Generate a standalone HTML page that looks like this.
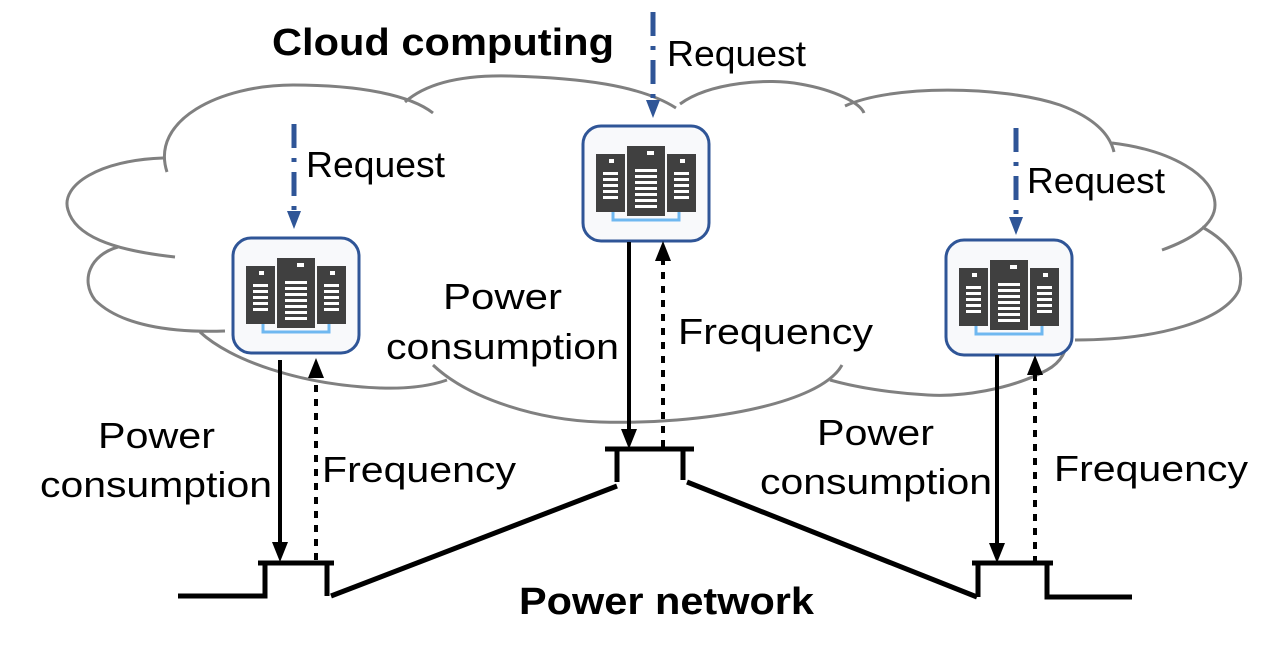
<!DOCTYPE html>
<html><head><style>body{margin:0;background:#fff}svg{display:block}text{font-family:"Liberation Sans",Arial,sans-serif;fill:#000}</style></head><body>
<svg width="1275" height="650" viewBox="0 0 1275 650" xmlns="http://www.w3.org/2000/svg">
<defs>
<g id="srv">
<rect x="0" y="0" width="126" height="115" rx="18" fill="#f8f9fb" stroke="#2f5597" stroke-width="3"/>
<rect x="13" y="28" width="29" height="58" fill="#404040"/><rect x="44" y="20" width="38" height="70" fill="#404040"/><rect x="84" y="28" width="29" height="58" fill="#404040"/>
<g fill="#fff"><rect x="26" y="33" width="5" height="4"/><rect x="64" y="25" width="7" height="4"/><rect x="97" y="33" width="5" height="4"/>
<rect x="20" y="46" width="15" height="3"/><rect x="20" y="52" width="15" height="3"/><rect x="20" y="58" width="15" height="3"/><rect x="20" y="64" width="15" height="3"/><rect x="20" y="70" width="15" height="3"/>
<rect x="91" y="46" width="15" height="3"/><rect x="91" y="52" width="15" height="3"/><rect x="91" y="58" width="15" height="3"/><rect x="91" y="64" width="15" height="3"/><rect x="91" y="70" width="15" height="3"/>
<rect x="52" y="43" width="22" height="3"/><rect x="52" y="49" width="22" height="3"/><rect x="52" y="55" width="22" height="3"/><rect x="52" y="61" width="22" height="3"/><rect x="52" y="67" width="22" height="3"/><rect x="52" y="73" width="22" height="3"/><rect x="52" y="79" width="22" height="3"/></g>
<path d="M30,86 V94 H96 V86" fill="none" stroke="#6fb8f0" stroke-width="3"/>
</g>
</defs>
<g fill="none" stroke="#808080" stroke-width="3">
<path d="M167,172 C150,120 220,85 293,85 C360,85 410,95 433,113"/>
<path d="M405,102 C430,80 470,75 510,76 C580,78 640,85 676,108"/>
<path d="M680,104 C710,82 770,78 800,84 C835,90 860,103 864,113"/>
<path d="M845,106 C890,85 1000,85 1060,105 C1095,118 1110,135 1114,152"/>
<path d="M1112,143 C1170,150 1215,175 1215,205 C1215,225 1190,240 1162,250"/>
<path d="M1202,227 C1235,245 1245,270 1239,290 C1225,320 1160,340 1075,340"/>
<path d="M1039,293 C1075,320 1075,355 1047,370 C1010,390 960,397 928,395 C890,393 855,387 830,380"/>
<path d="M433,365 C470,400 540,420 600,422 C700,425 820,405 842,365"/>
<path d="M200,332 C230,360 300,385 380,388 C410,389 430,386 447,380"/>
<path d="M118,247 C90,255 80,280 95,300 C120,325 170,333 225,331"/>
<path d="M163,158 C100,160 60,185 68,210 C75,235 110,250 175,257"/>
</g>
<use href="#srv" x="233" y="238"/><use href="#srv" x="583" y="126"/><use href="#srv" x="946" y="240"/>
<g stroke="#2f5597" stroke-width="5" stroke-dasharray="24,10,4,10" fill="none">
<line x1="294" y1="124" x2="294" y2="214"/>
<line x1="653" y1="12" x2="653" y2="104"/>
<line x1="1016" y1="128" x2="1016" y2="221"/>
</g>
<path d="M287,211 h14 l-7,18z M646,100 h14 l-7,18z M1009,217 h14 l-7,18z" fill="#2f5597"/>
<g stroke="#000" stroke-width="4" fill="none">
<line x1="280" y1="360" x2="280" y2="545"/>
<line x1="629" y1="242" x2="629" y2="432"/>
<line x1="997" y1="355" x2="997" y2="548"/>
<g stroke-dasharray="7,7">
<line x1="316" y1="560" x2="316" y2="376"/><line x1="663" y1="447" x2="663" y2="259"/><line x1="1035" y1="563" x2="1035" y2="373"/></g>
</g>
<path d="M316,358 l-8,20 h16z M663,241 l-8,20 h16z M1035,355 l-8,20 h16z M272,542 h16 l-8,20z M621,429 h16 l-8,20z M989,543 h16 l-8,20z" fill="#000"/>
<g stroke="#000" stroke-width="5" fill="none">
<path d="M178,596 H265 V563 M258,563 H334 M327,563 V596"/>
<line x1="331" y1="596" x2="617" y2="486"/>
<path d="M617,482 V449 M605,449 H694 M683,449 V480"/>
<line x1="687" y1="482" x2="977" y2="597"/>
<path d="M978,597 V563 M972,563 H1053 M1047,563 V597 H1132"/>
</g>
<g font-weight="bold" font-size="38">
<text x="272" y="55" textLength="342" lengthAdjust="spacingAndGlyphs">Cloud computing</text>
<text x="519" y="614" textLength="295" lengthAdjust="spacingAndGlyphs">Power network</text>
</g>
<g font-size="36">
<text x="306" y="177" textLength="139" lengthAdjust="spacingAndGlyphs">Request</text>
<text x="667" y="66" textLength="139" lengthAdjust="spacingAndGlyphs">Request</text>
<text x="1027" y="193" textLength="138" lengthAdjust="spacingAndGlyphs">Request</text>
<text x="443" y="309" textLength="119" lengthAdjust="spacingAndGlyphs">Power</text>
<text x="386" y="359" textLength="233" lengthAdjust="spacingAndGlyphs">consumption</text>
<text x="678" y="344" textLength="195" lengthAdjust="spacingAndGlyphs">Frequency</text>
<text x="98" y="448" textLength="117" lengthAdjust="spacingAndGlyphs">Power</text>
<text x="40" y="497" textLength="232" lengthAdjust="spacingAndGlyphs">consumption</text>
<text x="322" y="482" textLength="194" lengthAdjust="spacingAndGlyphs">Frequency</text>
<text x="817" y="445" textLength="117" lengthAdjust="spacingAndGlyphs">Power</text>
<text x="760" y="494" textLength="232" lengthAdjust="spacingAndGlyphs">consumption</text>
<text x="1054" y="481" textLength="194" lengthAdjust="spacingAndGlyphs">Frequency</text>
</g>
</svg>
</body></html>
